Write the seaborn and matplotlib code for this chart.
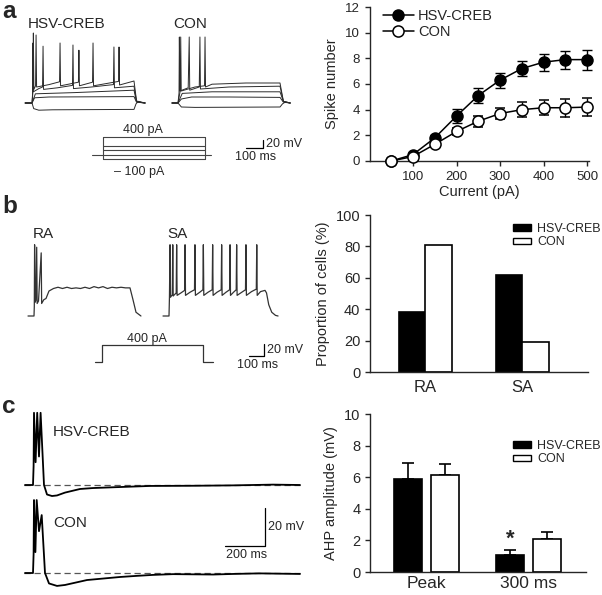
import numpy as np
import pandas as pd
import matplotlib
matplotlib.use("Agg")
import matplotlib.pyplot as plt
import seaborn as sns
from matplotlib.lines import Line2D
from matplotlib.patches import Patch

W, H = 602, 595

# ---------------- data ----------------
# a: spikes vs injected current
currents = [50, 100, 150, 200, 250, 300, 350, 400, 450, 500]
creb_spikes = [0, 0.5, 1.8, 3.5, 5.1, 6.3, 7.2, 7.7, 7.9, 7.9]
creb_sem = [0.1, 0.15, 0.25, 0.52, 0.56, 0.58, 0.58, 0.65, 0.7, 0.78]
con_spikes = [0, 0.35, 1.3, 2.3, 3.1, 3.7, 4.0, 4.15, 4.15, 4.2]
con_sem = [0.1, 0.15, 0.2, 0.3, 0.43, 0.45, 0.58, 0.58, 0.69, 0.71]

# b: firing type proportions
fire_types = ["RA", "SA"]
creb_prop = [38, 62]
con_prop = [81, 19]

# c: AHP amplitude
ahp_times = ["Peak", "300 ms"]
creb_ahp = [5.9, 1.05]
creb_ahp_sem = [1.0, 0.33]
con_ahp = [6.15, 2.1]
con_ahp_sem = [0.68, 0.43]

groups = ["HSV-CREB", "CON"]

# example traces (time ms, membrane potential mV)
# a: step protocol, HSV-CREB cell
creb_a_traces = [
    [(-40, -70), (0, -70), (10, -84), (40, -88), (120, -87), (600, -86), (612, -72), (625, -66), (645, -69), (665, -70)],
    [(-40, -70), (0, -70), (15, -57), (100, -55), (600, -54), (615, -68), (665, -70)],
    [(-40, -70), (0, -70), (20, -47), (250, -44), (600, -38), (615, -67), (665, -70)],
    [(-40, -70), (0, -70), (3, -50), (5, 80), (8, -42), (40, -34), (62, -30), (65, 72), (68, -36), (150, -32),
     (238, -26), (241, 75), (244, -34), (350, -30), (479, -24), (482, 70), (485, -32), (600, -28), (615, -66), (665, -70)],
    [(-40, -70), (0, -70), (6, -40), (8, 105), (11, -36), (21, -27), (24, 100), (27, -30), (100, -24), (162, -17),
     (165, 80), (168, -27), (273, -18), (276, 62), (279, -27), (356, -18), (359, 80), (362, -27), (509, -16),
     (512, 70), (515, -25), (600, -15), (615, -65), (665, -70)],
]
# a: step protocol, CON cell
con_a_traces = [
    [(-35, -70), (0, -70), (20, -80), (100, -81), (600, -80), (615, -72), (630, -68), (660, -70)],
    [(-35, -70), (0, -70), (20, -60), (80, -55), (300, -55), (600, -56), (620, -68), (660, -70)],
    [(-35, -70), (0, -70), (25, -46), (200, -42), (600, -42), (620, -66), (660, -70)],
    [(-35, -70), (0, -70), (6, -45), (8, 95), (11, -40), (60, -32), (66, 95), (69, -38), (125, -30), (129, 95),
     (132, -35), (300, -30), (600, -28), (620, -66), (660, -70)],
    [(-35, -70), (0, -70), (13, -40), (16, 95), (19, -40), (100, -30), (156, -27), (159, 95), (162, -30), (200, -23),
     (400, -20), (600, -20), (620, -66), (660, -70)],
]
step_levels_a = [-100, 100, 200, 400]  # pA
step_dur_a = 600

# b: RA and SA examples at 400 pA
ra_trace = [(-40, -70), (0, -70), (2, -55), (4, 44), (7, -48), (12, -45), (18, 40), (21, -50), (30, -46), (48, 31),
            (51, -50), (65, -44), (80, -42), (100, -30), (130, -26), (160, -24), (190, -26), (220, -24), (250, -26),
            (280, -25), (310, -26), (340, -24), (370, -26), (400, -23), (430, -25), (460, -23), (490, -26),
            (520, -24), (550, -25), (580, -24), (610, -25), (640, -25), (660, -44), (680, -64), (713, -70)]
sa_trace = [(-40, -70), (0, -70), (3, -40), (7, 44), (10, -40), (22, -36), (25, 44), (28, -38), (48, -33), (51, 44),
            (54, -37), (80, -33), (104, -29), (107, 44), (110, -37), (140, -32), (170, -28), (173, 44), (176, -37),
            (205, -32), (226, -28), (229, 44), (232, -37), (260, -32), (288, -28), (291, 44), (294, -37), (320, -32),
            (348, -28), (351, 44), (354, -37), (380, -32), (404, -28), (407, 44), (410, -37), (430, -32), (448, -28),
            (451, 44), (454, -37), (485, -32), (510, -28), (513, 44), (516, -37), (550, -31), (582, -27), (585, 44),
            (588, -37), (610, -31), (640, -29), (650, -33), (665, -52), (685, -64), (710, -69), (727, -70)]
step_b = [(-47, 0), (0, 0), (0, 400), (670, 400), (670, 0), (740, 0)]

# c: AHP after a spike burst
creb_ahp_trace = [(-40, -70), (0, -70), (3, -60), (5, -32), (13, -58), (21, -32), (30, -55), (38, -32), (55, -70),
                  (70, -75), (95, -75.8), (120, -75.5), (160, -74), (235, -72.1), (300, -71.6), (400, -71.2),
                  (585, -70.5), (800, -70.4), (1000, -70.2), (1200, -69.8), (1335, -70)]
con_ahp_trace = [(-40, -70), (0, -70), (3, -60), (5, -31.6), (12, -59), (18.5, -31.6), (30, -48), (43.5, -39.5),
                 (60, -70), (80, -75.5), (120, -76.8), (160, -76.3), (270, -73.7), (435, -72.1), (520, -71.5),
                 (600, -71), (700, -70.6), (900, -70.8), (1000, -70.5), (1130, -70.2), (1335, -70.5)]

# ---------------- figure ----------------
sns.set_style("ticks")
plt.rcParams["font.family"] = ["Liberation Sans", "DejaVu Sans"]
plt.rcParams["axes.linewidth"] = 1.0

fig = plt.figure(figsize=(W / 100, H / 100), dpi=100)


def px_axes(l, t, r, b):
    return fig.add_axes([l / W, 1 - b / H, (r - l) / W, (b - t) / H])


def trace_axes(anchor_px, anchor_xy, scale, xr, yr):
    # axes where data point anchor_xy sits at pixel anchor_px with scale px per unit
    px, py = anchor_px
    x0, y0 = anchor_xy
    sx, sy = scale
    left = px + (xr[0] - x0) * sx
    right = px + (xr[1] - x0) * sx
    top = py - (yr[1] - y0) * sy
    bottom = py - (yr[0] - y0) * sy
    ax = px_axes(left, top, right, bottom)
    ax.set_xlim(xr)
    ax.set_ylim(yr)
    ax.axis("off")
    return ax


def ftext(x, y, s, **kw):
    fig.text(x / W, 1 - y / H, s, **kw)


def draw(ax, pts, **kw):
    t, v = zip(*pts)
    ax.plot(t, v, **kw)


def scale_bar(ax, dx, dy, xlab, ylab, fs):
    ax.plot([-dx, 0, 0], [0, 0, dy], color="black", lw=0.9)
    ax.annotate(ylab, (0, dy * 0.5), xytext=(2.5, 0), textcoords="offset points",
                fontsize=fs, va="center", ha="left")
    ax.annotate(xlab, (-dx * 0.45, 0), xytext=(0, -2.5), textcoords="offset points",
                fontsize=fs, va="top", ha="center")


for lab, y in [("a", 17.5), ("b", 213), ("c", 413)]:
    ftext(2, y, lab, fontsize=17.5, fontweight="bold", va="baseline")

# ---- a left: traces
tr_kw = dict(color="#2b2b2b", lw=0.7)
ax_ca = trace_axes((32, 103), (0, -70), (0.17, 0.4), (-50, 700), (-100, 120))
for tr in creb_a_traces:
    draw(ax_ca, tr, **tr_kw)
ax_na = trace_axes((178, 103), (0, -70), (0.17, 0.4), (-50, 700), (-100, 120))
for tr in con_a_traces:
    draw(ax_na, tr, **tr_kw)
ftext(28, 24, "HSV-CREB", fontsize=11, va="center")
ftext(173, 24, "CON", fontsize=11, va="center")

ax_cmd = trace_axes((103, 154.5), (0, 0), (0.17, 0.045), (-80, 660), (-600, 700))
ax_cmd.plot([-65, 635], [0, 0], color="#444444", lw=0.8)
for lv in step_levels_a:
    ax_cmd.plot([0, step_dur_a], [lv, lv], color="#444444", lw=0.8)
ax_cmd.plot([0, 0], [min(step_levels_a), max(step_levels_a)], color="#444444", lw=0.8)
ax_cmd.plot([step_dur_a, step_dur_a], [min(step_levels_a), max(step_levels_a)], color="#444444", lw=0.8)
ax_cmd.text(235, 555, "400 pA", fontsize=9, ha="center", va="center")
ax_cmd.text(212, -390, "\u2013 100 pA", fontsize=9, ha="center", va="center")

ax_sa = trace_axes((263, 148), (0, 0), (0.17, 0.4), (-150, 200), (-40, 40))
scale_bar(ax_sa, 100, 20, "100 ms", "20 mV", 9)

# ---- a right: input-output curve
ax_a = px_axes(369.5, 7, 589.2, 161)
ax_a.errorbar(currents, creb_spikes, yerr=creb_sem, fmt="-o", color="black", mfc="black", mec="black",
              ms=8, lw=1.1, capsize=3.5, elinewidth=1, clip_on=False, zorder=3)
ax_a.errorbar(currents, con_spikes, yerr=con_sem, fmt="-o", color="black", mfc="white", mec="black",
              ms=8, mew=1.1, lw=1.1, capsize=3.5, elinewidth=1, clip_on=False, zorder=3)
ax_a.set_xlim(0, 505)
ax_a.set_ylim(0, 12)
ax_a.set_xticks([100, 200, 300, 400, 500])
ax_a.set_yticks(range(0, 13, 2))
ax_a.tick_params(labelsize=9.5, length=3.5, width=1)
ax_a.set_xlabel("Current (pA)", fontsize=10.5, labelpad=2)
ax_a.set_ylabel("Spike number", fontsize=10.5, labelpad=4)
sns.despine(ax=ax_a)
h_a = [Line2D([], [], color="black", marker="o", ms=8, mfc="black", lw=1.1),
       Line2D([], [], color="black", marker="o", ms=8, mfc="white", mew=1.1, lw=1.1)]
fig.legend(h_a, groups, loc="upper left", bbox_to_anchor=(383 / W, 1 - 9 / H), frameon=False, fontsize=10.5,
           handlelength=2.1, handletextpad=0.3, labelspacing=0.15, borderpad=0, borderaxespad=0)

# ---- b left: RA / SA traces
trb_kw = dict(color="#333333", lw=0.9)
ax_ra = trace_axes((34, 316), (0, -70), (0.15, 0.625), (-60, 760), (-90, 60))
draw(ax_ra, ra_trace, **trb_kw)
ax_sat = trace_axes((169, 316), (0, -70), (0.15, 0.625), (-60, 760), (-90, 60))
draw(ax_sat, sa_trace, **trb_kw)
ftext(33, 234, "RA", fontsize=11, va="center")
ftext(167, 234, "SA", fontsize=11, va="center")
ax_cb = trace_axes((102, 362), (0, 0), (0.15, 0.0425), (-80, 780), (-100, 700))
draw(ax_cb, step_b, **trb_kw)
ax_cb.text(300, 541, "400 pA", fontsize=9, ha="center", va="center")
ax_sb = trace_axes((264, 356), (0, 0), (0.15, 0.625), (-150, 250), (-30, 40))
scale_bar(ax_sb, 100, 20, "100 ms", "20 mV", 9)

# ---- b right: proportion bars
df_b = pd.DataFrame({"type": fire_types * 2,
                     "group": [groups[0]] * 2 + [groups[1]] * 2,
                     "prop": creb_prop + con_prop})
pal = {groups[0]: "black", groups[1]: "white"}
ax_b = px_axes(370, 215, 587.5, 372)
sns.barplot(data=df_b, x="type", y="prop", hue="group", hue_order=groups, palette=pal, edgecolor="black",
            linewidth=1.2, width=0.546, errorbar=None, legend=False, ax=ax_b)
ax_b.set_xlim(-0.57, 1.67)
ax_b.set_ylim(0, 100)
ax_b.set_yticks(range(0, 101, 20))
ax_b.tick_params(axis="y", labelsize=10.5, length=3.5, width=1)
ax_b.tick_params(axis="x", labelsize=12, length=0, pad=6)
ax_b.set_xlabel("")
ax_b.set_ylabel("Proportion of cells (%)", fontsize=10.5, labelpad=4)
sns.despine(ax=ax_b)
h_bar = [Patch(facecolor="black", edgecolor="black", lw=1), Patch(facecolor="white", edgecolor="black", lw=1)]
fig.legend(h_bar, groups, loc="upper left", bbox_to_anchor=(513 / W, 1 - 223 / H), frameon=False, fontsize=9,
           handlelength=1.45, handleheight=0.4, handletextpad=0.5, labelspacing=0.1, borderpad=0, borderaxespad=0)

# ---- c left: AHP traces
trc_kw = dict(color="black", lw=1.3)
dash_kw = dict(color="#555555", lw=0.9, dashes=(5, 3))
ax_cc = trace_axes((33, 485), (0, -70), (0.2, 1.9), (-50, 1340), (-80, -25))
ax_cc.plot([-45, 1335], [-70, -70], **dash_kw)
draw(ax_cc, creb_ahp_trace, **trc_kw)
ax_nc = trace_axes((33, 573), (0, -70), (0.2, 1.9), (-50, 1340), (-80, -25))
ax_nc.plot([-45, 1335], [-70, -70], **dash_kw)
draw(ax_nc, con_ahp_trace, **trc_kw)
ftext(53, 432, "HSV-CREB", fontsize=11, va="center")
ftext(53, 523, "CON", fontsize=11, va="center")
ax_sc = trace_axes((265, 546), (0, 0), (0.2, 1.9), (-250, 150), (-15, 30))
scale_bar(ax_sc, 200, 20, "200 ms", "20 mV", 9)

# ---- c right: AHP bars
df_c = pd.DataFrame({"time": ahp_times * 2,
                     "group": [groups[0]] * 2 + [groups[1]] * 2,
                     "amp": creb_ahp + con_ahp})
ax_c = px_axes(370, 414, 586, 572)
sns.barplot(data=df_c, x="time", y="amp", hue="group", hue_order=groups, palette=pal, edgecolor="black",
            linewidth=1.2, width=0.726, gap=0.24, errorbar=None, legend=False, ax=ax_c)
sems = creb_ahp_sem + con_ahp_sem
xs = [p.get_x() + p.get_width() / 2 for p in ax_c.patches]
ys = [p.get_height() for p in ax_c.patches]
ax_c.errorbar(xs, ys, yerr=[[0] * len(sems), sems], fmt="none", ecolor="black", elinewidth=1.2,
              capsize=4, capthick=1.2, zorder=0)
ax_c.text(xs[1], 2.07, "*", fontsize=16, fontweight="bold", ha="center", va="center")
ax_c.set_xlim(-0.554, 1.564)
ax_c.set_ylim(0, 10)
ax_c.set_yticks(range(0, 11, 2))
ax_c.tick_params(axis="y", labelsize=10.5, length=3.5, width=1)
ax_c.tick_params(axis="x", labelsize=12.5, length=0, pad=3)
ax_c.set_xlabel("")
ax_c.set_ylabel("AHP amplitude (mV)", fontsize=10.5, labelpad=4)
sns.despine(ax=ax_c)
fig.legend(h_bar, groups, loc="upper left", bbox_to_anchor=(513 / W, 1 - 440 / H), frameon=False, fontsize=9,
           handlelength=1.45, handleheight=0.4, handletextpad=0.5, labelspacing=0.1, borderpad=0, borderaxespad=0)

fig.savefig("out.png", dpi=100)
